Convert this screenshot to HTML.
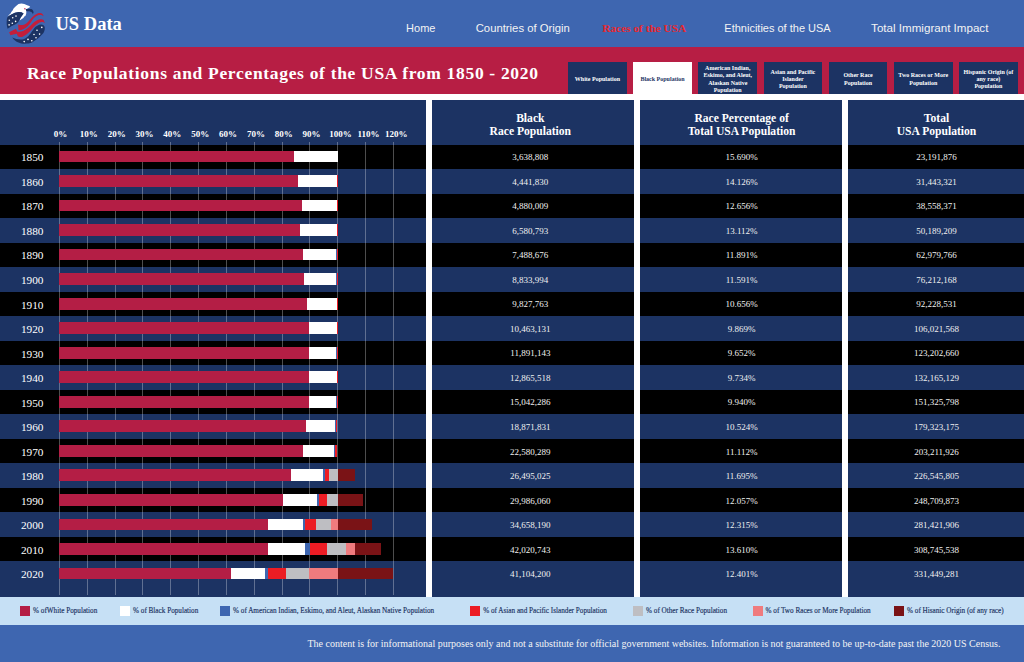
<!DOCTYPE html>
<html><head><meta charset="utf-8"><title>US Data - Races of the USA</title>
<style>
*{margin:0;padding:0;box-sizing:border-box}
html,body{width:1024px;height:662px;overflow:hidden;background:#fff}
body{position:relative;font-family:"Liberation Serif",serif;}
.abs{position:absolute}
#hdr{left:0;top:0;width:1024px;height:47px;background:#3e66b0}
#ban{left:0;top:47px;width:1024px;height:47px;background:#b71e44}
.nav{position:absolute;top:21px;font-family:"Liberation Sans",sans-serif;font-size:11px;line-height:14px;color:#f3f3f3;white-space:nowrap;transform:translateX(-50%)}
.btn{position:absolute;top:62px;width:58.8px;height:32px;background:#1c3363;color:#fff;font-weight:bold;font-size:6px;line-height:7.1px;display:flex;align-items:center;justify-content:center;text-align:center;white-space:nowrap;padding-top:3px}
.btn.on{background:#fff;color:#1c3363}
.panel{position:absolute;top:100px;height:497px;background:#1c3363;overflow:hidden}
.row{position:absolute;left:0;right:0;height:24.52px}
.row.k{background:#000}
.cell{position:absolute;left:0;right:0;top:0.7px;text-align:center;color:#f0f0f0;font-size:9px;line-height:24.5px;white-space:nowrap}
.ph{position:absolute;left:0;right:0;top:11.5px;text-align:center;color:#fff;font-weight:bold;font-size:11.6px;line-height:13.8px}
.yr{position:absolute;left:0;width:64.4px;text-align:center;color:#fff;font-size:11.3px;line-height:24.5px;padding-top:0.8px}
.gl{position:absolute;top:42px;width:1px;height:453px;background:rgba(255,255,255,0.3)}
.ax{position:absolute;top:28px;color:#fff;font-weight:bold;font-size:9px;line-height:12px;transform:translateX(-50%);white-space:nowrap}
.seg{position:absolute;height:11.7px}
#legend{left:0;top:597px;width:1024px;height:27.5px;background:#c6e0f5}
.lg{position:absolute;top:8.5px;width:10px;height:10px}
.lt{position:absolute;top:8px;font-size:7.2px;line-height:12px;color:#1c3363;white-space:nowrap;-webkit-text-stroke:0.15px #1c3363}
#foot{left:0;top:624.5px;width:1024px;height:38px;background:#3e66b0}
#foot span{position:absolute;left:307.5px;top:12px;font-size:10px;line-height:13px;color:#f4f4f4;white-space:nowrap}
</style></head><body>

<div id="hdr" class="abs"></div>
<svg class="abs" style="left:0;top:0" width="50" height="47" viewBox="0 0 50 47">
<path d="M7.6 16.7 L9.6 14.2 L10.6 13.6 L11.3 12 L12.6 10.6 L13.4 8.7 L15 6.9 L16.7 5.4 L18.5 4 L21.4 3.6 L24.3 4 L27.2 5.2 L29.3 6.1 L30.2 7 L27.6 8.4 L26.1 9.2 L26.4 11.2 L26.2 13.8 L25.4 16 L24.3 16.6 L23.4 18.1 L21.8 19 L19.6 20.4 L20.6 17.8 L22.4 15.2 L23.6 13.4 L21.4 12.3 L18.5 12 L14.9 12.7 L11.3 14.5 Z" fill="#fff"/>
<path d="M6.9 18.9 L7.6 16.7 L11.3 14.5 L14.9 12.7 L18.5 12 L21.4 12.3 L23.6 13.4 L22.3 15.3 L20.5 17.8 L19.3 20.3 L18.2 22.2 L16 24 L11.3 26.2 L7.6 28.7 C6.6 25.4 6.4 22 6.9 18.9 Z" fill="#1c3363"/>
<path d="M25.6 9.1 L31.4 9 C32.6 9.5 33.4 10.6 33.6 12.3 L32.9 14.3 C32.6 13.2 32.2 12.6 31.7 12.3 L29.3 11.3 L26.4 11.3 Z" fill="#1c3363"/>
<circle cx="24.9" cy="8.7" r="0.75" fill="#c8285a"/>
<path d="M18.1 24.5 C20 25.3 22.5 25.3 24.5 24.5 C27 23.5 29 21 31 18.6 C33 16.3 35 14.5 37.5 13.5 C39.5 12.8 41.5 13 42.5 14 L43.8 16.2 L42.5 15.6 C41 15 39 15 37.6 15.4 C35.5 16.2 34 17.5 32.5 19.8 C30.5 23 29 25 27.4 26.5 C25.5 28.3 23 29.5 21 30 L18.5 30.2 Z" fill="#c41e3a"/>
<path d="M9.1 32.3 L12 30.8 L16 28.7 L17.2 31.5 C19 32 21 31.8 23 31 C26 29.5 29 27.5 32.2 24 C34.5 21.5 37 20 39.5 19.3 C41.5 19 43 19.5 43.8 20.2 L44.8 23.3 L43.5 22.3 C42 21.8 40.5 22 39 22.8 C36.5 24.2 34 26.5 31.5 29.5 C29 32.5 26 35 22.1 37 C20.5 37.3 19 37 17.8 36.2 L16.8 33.8 L13.4 34.5 L10.5 35.2 Z" fill="#c41e3a"/>
<path d="M12.3 37.4 C16 39.2 20 40 24.3 38.9 C28 37.5 31 33 34 28.5 C36 26 38.5 24.7 41 24.5 C43 24.5 44.5 25.5 44.8 27.5 C45 30 44 32.5 43 33.5 C40 37 36 40 32 42.5 C28 44 22 44.2 18.5 42.5 C16 41.5 13.8 39.8 12.3 37.4 Z" fill="#1c3363"/>
<g fill="#fff"><circle cx="16" cy="16.1" r="0.8"/><circle cx="12.7" cy="17.8" r="0.8"/><circle cx="9.3" cy="20.2" r="0.8"/><circle cx="15.6" cy="21.4" r="0.8"/><circle cx="12.3" cy="23.2" r="0.8"/><circle cx="9.1" cy="24.9" r="0.8"/>
<circle cx="41.8" cy="27.4" r="0.8"/><circle cx="37" cy="30.2" r="0.8"/><circle cx="34" cy="34.5" r="0.8"/><circle cx="39.6" cy="34.1" r="0.8"/><circle cx="36" cy="37.8" r="0.8"/><circle cx="28" cy="39.4" r="0.8"/><circle cx="31.8" cy="40.7" r="0.8"/><circle cx="24.2" cy="41.6" r="0.8"/></g>
</svg>
<div class="abs" style="left:55.5px;top:13.3px;font-weight:bold;font-size:18.5px;line-height:22px;color:#fff;white-space:nowrap">US Data</div>
<div class="nav" style="left:420.75px;color:#f3f3f3;font-size:11px">Home</div>
<div class="nav" style="left:522.8px;color:#f3f3f3;font-size:11.3px">Countries of Origin</div>
<div class="nav" style="left:644.25px;color:#e8262e;font-family:'Liberation Serif',serif;font-weight:bold;font-size:11.3px">Races of the USA</div>
<div class="nav" style="left:777.5px;color:#f3f3f3;font-size:11px">Ethnicities of the USA</div>
<div class="nav" style="left:929.75px;color:#f3f3f3;font-size:11.6px">Total Immigrant Impact</div>
<div id="ban" class="abs"></div>
<div class="abs" style="left:27px;top:63.1px;font-weight:bold;font-size:17.5px;letter-spacing:0.68px;line-height:20px;color:#fff;white-space:nowrap">Race Populations and Percentages of the USA from 1850 - 2020</div>
<div class="btn" style="left:568.0px;"""><span>White Population</span></div>
<div class="btn on" style="left:633.17px;"""><span>Black Population</span></div>
<div class="btn" style="left:698.34px;"""><span>American Indian,<br>Eskimo, and Aleut,<br>Alaskan Native<br>Population</span></div>
<div class="btn" style="left:763.51px;"""><span>Asian and Pacific<br>Islander<br>Population</span></div>
<div class="btn" style="left:828.68px;"""><span>Other Race<br>Population</span></div>
<div class="btn" style="left:893.85px;"""><span>Two Races or More<br>Population</span></div>
<div class="btn" style="left:959.02px;"""><span>Hispanic Origin (of<br>any race)<br>Population</span></div>
<div class="panel" style="left:0;width:426px">
<div class="row k" style="top:44.60px"></div>
<div class="row" style="top:69.12px"></div>
<div class="row k" style="top:93.64px"></div>
<div class="row" style="top:118.16px"></div>
<div class="row k" style="top:142.68px"></div>
<div class="row" style="top:167.20px"></div>
<div class="row k" style="top:191.72px"></div>
<div class="row" style="top:216.24px"></div>
<div class="row k" style="top:240.76px"></div>
<div class="row" style="top:265.28px"></div>
<div class="row k" style="top:289.80px"></div>
<div class="row" style="top:314.32px"></div>
<div class="row k" style="top:338.84px"></div>
<div class="row" style="top:363.36px"></div>
<div class="row k" style="top:387.88px"></div>
<div class="row" style="top:412.40px"></div>
<div class="row k" style="top:436.92px"></div>
<div class="row" style="top:461.44px"></div>
<div class="gl" style="left:59px"></div>
<div class="ax" style="left:60.50px">0%</div>
<div class="gl" style="left:87px"></div>
<div class="ax" style="left:88.80px">10%</div>
<div class="gl" style="left:115px"></div>
<div class="ax" style="left:116.65px">20%</div>
<div class="gl" style="left:142px"></div>
<div class="ax" style="left:144.50px">30%</div>
<div class="gl" style="left:170px"></div>
<div class="ax" style="left:172.35px">40%</div>
<div class="gl" style="left:198px"></div>
<div class="ax" style="left:200.20px">50%</div>
<div class="gl" style="left:226px"></div>
<div class="ax" style="left:228.05px">60%</div>
<div class="gl" style="left:254px"></div>
<div class="ax" style="left:255.90px">70%</div>
<div class="gl" style="left:282px"></div>
<div class="ax" style="left:283.75px">80%</div>
<div class="gl" style="left:309px"></div>
<div class="ax" style="left:311.60px">90%</div>
<div class="gl" style="left:337px"></div>
<div class="ax" style="left:340.60px">100%</div>
<div class="gl" style="left:365px"></div>
<div class="ax" style="left:368.45px">110%</div>
<div class="gl" style="left:393px"></div>
<div class="ax" style="left:396.30px">120%</div>
<div class="yr" style="top:44.60px">1850</div>
<div class="seg" style="left:59.30px;width:234.78px;top:50.70px;background:#b41e45"></div>
<div class="seg" style="left:294.08px;width:43.72px;top:50.70px;background:#ffffff"></div>
<div class="yr" style="top:69.12px">1860</div>
<div class="seg" style="left:59.30px;width:238.40px;top:75.22px;background:#b41e45"></div>
<div class="seg" style="left:297.70px;width:39.27px;top:75.22px;background:#ffffff"></div>
<div class="seg" style="left:336.96px;width:0.42px;top:75.22px;background:#3e66b0"></div>
<div class="seg" style="left:337.38px;width:0.42px;top:75.22px;background:#ec1c24"></div>
<div class="yr" style="top:93.64px">1870</div>
<div class="seg" style="left:59.30px;width:242.57px;top:99.74px;background:#b41e45"></div>
<div class="seg" style="left:301.87px;width:35.37px;top:99.74px;background:#ffffff"></div>
<div class="seg" style="left:337.24px;width:0.19px;top:99.74px;background:#3e66b0"></div>
<div class="seg" style="left:337.44px;width:0.45px;top:99.74px;background:#ec1c24"></div>
<div class="yr" style="top:118.16px">1880</div>
<div class="seg" style="left:59.30px;width:240.90px;top:124.26px;background:#b41e45"></div>
<div class="seg" style="left:300.20px;width:36.48px;top:124.26px;background:#ffffff"></div>
<div class="seg" style="left:336.69px;width:0.36px;top:124.26px;background:#3e66b0"></div>
<div class="seg" style="left:337.05px;width:0.58px;top:124.26px;background:#ec1c24"></div>
<div class="yr" style="top:142.68px">1890</div>
<div class="seg" style="left:59.30px;width:243.69px;top:148.78px;background:#b41e45"></div>
<div class="seg" style="left:302.99px;width:33.14px;top:148.78px;background:#ffffff"></div>
<div class="seg" style="left:336.13px;width:1.09px;top:148.78px;background:#3e66b0"></div>
<div class="seg" style="left:337.22px;width:0.47px;top:148.78px;background:#ec1c24"></div>
<div class="yr" style="top:167.20px">1900</div>
<div class="seg" style="left:59.30px;width:244.80px;top:173.30px;background:#b41e45"></div>
<div class="seg" style="left:304.10px;width:32.31px;top:173.30px;background:#ffffff"></div>
<div class="seg" style="left:336.41px;width:0.86px;top:173.30px;background:#3e66b0"></div>
<div class="seg" style="left:337.27px;width:0.42px;top:173.30px;background:#ec1c24"></div>
<div class="yr" style="top:191.72px">1910</div>
<div class="seg" style="left:59.30px;width:247.59px;top:197.82px;background:#b41e45"></div>
<div class="seg" style="left:306.89px;width:29.80px;top:197.82px;background:#ffffff"></div>
<div class="seg" style="left:336.69px;width:0.81px;top:197.82px;background:#3e66b0"></div>
<div class="seg" style="left:337.49px;width:0.45px;top:197.82px;background:#ec1c24"></div>
<div class="yr" style="top:216.24px">1920</div>
<div class="seg" style="left:59.30px;width:249.81px;top:222.34px;background:#b41e45"></div>
<div class="seg" style="left:309.11px;width:27.57px;top:222.34px;background:#ffffff"></div>
<div class="seg" style="left:336.69px;width:0.64px;top:222.34px;background:#3e66b0"></div>
<div class="seg" style="left:337.33px;width:0.47px;top:222.34px;background:#ec1c24"></div>
<div class="yr" style="top:240.76px">1930</div>
<div class="seg" style="left:59.30px;width:250.09px;top:246.86px;background:#b41e45"></div>
<div class="seg" style="left:309.39px;width:27.01px;top:246.86px;background:#ffffff"></div>
<div class="seg" style="left:336.41px;width:0.75px;top:246.86px;background:#3e66b0"></div>
<div class="seg" style="left:337.16px;width:0.58px;top:246.86px;background:#ec1c24"></div>
<div class="yr" style="top:265.28px">1940</div>
<div class="seg" style="left:59.30px;width:250.09px;top:271.38px;background:#b41e45"></div>
<div class="seg" style="left:309.39px;width:27.29px;top:271.38px;background:#ffffff"></div>
<div class="seg" style="left:336.69px;width:0.70px;top:271.38px;background:#3e66b0"></div>
<div class="seg" style="left:337.38px;width:0.53px;top:271.38px;background:#ec1c24"></div>
<div class="yr" style="top:289.80px">1950</div>
<div class="seg" style="left:59.30px;width:249.26px;top:295.90px;background:#b41e45"></div>
<div class="seg" style="left:308.56px;width:27.85px;top:295.90px;background:#ffffff"></div>
<div class="seg" style="left:336.41px;width:0.64px;top:295.90px;background:#3e66b0"></div>
<div class="seg" style="left:337.05px;width:0.58px;top:295.90px;background:#ec1c24"></div>
<div class="yr" style="top:314.32px">1960</div>
<div class="seg" style="left:59.30px;width:246.75px;top:320.42px;background:#b41e45"></div>
<div class="seg" style="left:306.05px;width:29.24px;top:320.42px;background:#ffffff"></div>
<div class="seg" style="left:335.29px;width:0.81px;top:320.42px;background:#3e66b0"></div>
<div class="seg" style="left:336.10px;width:1.36px;top:320.42px;background:#ec1c24"></div>
<div class="yr" style="top:338.84px">1970</div>
<div class="seg" style="left:59.30px;width:243.69px;top:344.94px;background:#b41e45"></div>
<div class="seg" style="left:302.99px;width:30.91px;top:344.94px;background:#ffffff"></div>
<div class="seg" style="left:333.90px;width:1.09px;top:344.94px;background:#3e66b0"></div>
<div class="seg" style="left:334.99px;width:2.12px;top:344.94px;background:#ec1c24"></div>
<div class="yr" style="top:363.36px">1980</div>
<div class="seg" style="left:59.30px;width:231.43px;top:369.46px;background:#b41e45"></div>
<div class="seg" style="left:290.73px;width:32.58px;top:369.46px;background:#ffffff"></div>
<div class="seg" style="left:323.32px;width:1.67px;top:369.46px;background:#3e66b0"></div>
<div class="seg" style="left:324.99px;width:4.18px;top:369.46px;background:#ec1c24"></div>
<div class="seg" style="left:329.17px;width:8.36px;top:369.46px;background:#bebec2"></div>
<div class="seg" style="left:337.52px;width:17.82px;top:369.46px;background:#7a1316"></div>
<div class="yr" style="top:387.88px">1990</div>
<div class="seg" style="left:59.30px;width:223.64px;top:393.98px;background:#b41e45"></div>
<div class="seg" style="left:282.94px;width:33.70px;top:393.98px;background:#ffffff"></div>
<div class="seg" style="left:316.63px;width:2.23px;top:393.98px;background:#3e66b0"></div>
<div class="seg" style="left:318.86px;width:8.08px;top:393.98px;background:#ec1c24"></div>
<div class="seg" style="left:326.94px;width:10.86px;top:393.98px;background:#bebec2"></div>
<div class="seg" style="left:337.80px;width:25.07px;top:393.98px;background:#7a1316"></div>
<div class="yr" style="top:412.40px">2000</div>
<div class="seg" style="left:59.30px;width:209.15px;top:418.50px;background:#b41e45"></div>
<div class="seg" style="left:268.45px;width:34.26px;top:418.50px;background:#ffffff"></div>
<div class="seg" style="left:302.71px;width:2.51px;top:418.50px;background:#3e66b0"></div>
<div class="seg" style="left:305.22px;width:10.30px;top:418.50px;background:#ec1c24"></div>
<div class="seg" style="left:315.52px;width:15.32px;top:418.50px;background:#bebec2"></div>
<div class="seg" style="left:330.84px;width:6.68px;top:418.50px;background:#ef7b7e"></div>
<div class="seg" style="left:337.52px;width:34.81px;top:418.50px;background:#7a1316"></div>
<div class="yr" style="top:436.92px">2010</div>
<div class="seg" style="left:59.30px;width:208.32px;top:443.02px;background:#b41e45"></div>
<div class="seg" style="left:267.62px;width:37.88px;top:443.02px;background:#ffffff"></div>
<div class="seg" style="left:305.49px;width:4.46px;top:443.02px;background:#3e66b0"></div>
<div class="seg" style="left:309.95px;width:16.71px;top:443.02px;background:#ec1c24"></div>
<div class="seg" style="left:326.66px;width:19.50px;top:443.02px;background:#bebec2"></div>
<div class="seg" style="left:346.15px;width:8.91px;top:443.02px;background:#ef7b7e"></div>
<div class="seg" style="left:355.07px;width:25.62px;top:443.02px;background:#7a1316"></div>
<div class="yr" style="top:461.44px">2020</div>
<div class="seg" style="left:59.30px;width:171.56px;top:467.54px;background:#b41e45"></div>
<div class="seg" style="left:230.86px;width:34.53px;top:467.54px;background:#ffffff"></div>
<div class="seg" style="left:265.39px;width:3.06px;top:467.54px;background:#3e66b0"></div>
<div class="seg" style="left:268.45px;width:17.27px;top:467.54px;background:#ec1c24"></div>
<div class="seg" style="left:285.72px;width:23.39px;top:467.54px;background:#bebec2"></div>
<div class="seg" style="left:309.11px;width:28.41px;top:467.54px;background:#ef7b7e"></div>
<div class="seg" style="left:337.52px;width:55.42px;top:467.54px;background:#7a1316"></div>
</div>
<div class="panel" style="left:432px;width:202px">
<div style="position:absolute;left:-2.7px;top:0;width:202px;height:100%">
<div class="ph">Black<br>Race Population</div>
<div class="row k" style="top:44.60px;left:2.7px;right:-2.7px"><div class="cell" style="left:-2.7px;right:2.7px">3,638,808</div></div>
<div class="row" style="top:69.12px;left:2.7px;right:-2.7px"><div class="cell" style="left:-2.7px;right:2.7px">4,441,830</div></div>
<div class="row k" style="top:93.64px;left:2.7px;right:-2.7px"><div class="cell" style="left:-2.7px;right:2.7px">4,880,009</div></div>
<div class="row" style="top:118.16px;left:2.7px;right:-2.7px"><div class="cell" style="left:-2.7px;right:2.7px">6,580,793</div></div>
<div class="row k" style="top:142.68px;left:2.7px;right:-2.7px"><div class="cell" style="left:-2.7px;right:2.7px">7,488,676</div></div>
<div class="row" style="top:167.20px;left:2.7px;right:-2.7px"><div class="cell" style="left:-2.7px;right:2.7px">8,833,994</div></div>
<div class="row k" style="top:191.72px;left:2.7px;right:-2.7px"><div class="cell" style="left:-2.7px;right:2.7px">9,827,763</div></div>
<div class="row" style="top:216.24px;left:2.7px;right:-2.7px"><div class="cell" style="left:-2.7px;right:2.7px">10,463,131</div></div>
<div class="row k" style="top:240.76px;left:2.7px;right:-2.7px"><div class="cell" style="left:-2.7px;right:2.7px">11,891,143</div></div>
<div class="row" style="top:265.28px;left:2.7px;right:-2.7px"><div class="cell" style="left:-2.7px;right:2.7px">12,865,518</div></div>
<div class="row k" style="top:289.80px;left:2.7px;right:-2.7px"><div class="cell" style="left:-2.7px;right:2.7px">15,042,286</div></div>
<div class="row" style="top:314.32px;left:2.7px;right:-2.7px"><div class="cell" style="left:-2.7px;right:2.7px">18,871,831</div></div>
<div class="row k" style="top:338.84px;left:2.7px;right:-2.7px"><div class="cell" style="left:-2.7px;right:2.7px">22,580,289</div></div>
<div class="row" style="top:363.36px;left:2.7px;right:-2.7px"><div class="cell" style="left:-2.7px;right:2.7px">26,495,025</div></div>
<div class="row k" style="top:387.88px;left:2.7px;right:-2.7px"><div class="cell" style="left:-2.7px;right:2.7px">29,986,060</div></div>
<div class="row" style="top:412.40px;left:2.7px;right:-2.7px"><div class="cell" style="left:-2.7px;right:2.7px">34,658,190</div></div>
<div class="row k" style="top:436.92px;left:2.7px;right:-2.7px"><div class="cell" style="left:-2.7px;right:2.7px">42,020,743</div></div>
<div class="row" style="top:461.44px;left:2.7px;right:-2.7px"><div class="cell" style="left:-2.7px;right:2.7px">41,104,200</div></div>
</div></div>
<div class="panel" style="left:640px;width:202px">
<div style="position:absolute;left:0.6px;top:0;width:202px;height:100%">
<div class="ph">Race Percentage of<br>Total USA Population</div>
<div class="row k" style="top:44.60px;left:-0.6px;right:0.6px"><div class="cell" style="left:0.6px;right:-0.6px">15.690%</div></div>
<div class="row" style="top:69.12px;left:-0.6px;right:0.6px"><div class="cell" style="left:0.6px;right:-0.6px">14.126%</div></div>
<div class="row k" style="top:93.64px;left:-0.6px;right:0.6px"><div class="cell" style="left:0.6px;right:-0.6px">12.656%</div></div>
<div class="row" style="top:118.16px;left:-0.6px;right:0.6px"><div class="cell" style="left:0.6px;right:-0.6px">13.112%</div></div>
<div class="row k" style="top:142.68px;left:-0.6px;right:0.6px"><div class="cell" style="left:0.6px;right:-0.6px">11.891%</div></div>
<div class="row" style="top:167.20px;left:-0.6px;right:0.6px"><div class="cell" style="left:0.6px;right:-0.6px">11.591%</div></div>
<div class="row k" style="top:191.72px;left:-0.6px;right:0.6px"><div class="cell" style="left:0.6px;right:-0.6px">10.656%</div></div>
<div class="row" style="top:216.24px;left:-0.6px;right:0.6px"><div class="cell" style="left:0.6px;right:-0.6px">9.869%</div></div>
<div class="row k" style="top:240.76px;left:-0.6px;right:0.6px"><div class="cell" style="left:0.6px;right:-0.6px">9.652%</div></div>
<div class="row" style="top:265.28px;left:-0.6px;right:0.6px"><div class="cell" style="left:0.6px;right:-0.6px">9.734%</div></div>
<div class="row k" style="top:289.80px;left:-0.6px;right:0.6px"><div class="cell" style="left:0.6px;right:-0.6px">9.940%</div></div>
<div class="row" style="top:314.32px;left:-0.6px;right:0.6px"><div class="cell" style="left:0.6px;right:-0.6px">10.524%</div></div>
<div class="row k" style="top:338.84px;left:-0.6px;right:0.6px"><div class="cell" style="left:0.6px;right:-0.6px">11.112%</div></div>
<div class="row" style="top:363.36px;left:-0.6px;right:0.6px"><div class="cell" style="left:0.6px;right:-0.6px">11.695%</div></div>
<div class="row k" style="top:387.88px;left:-0.6px;right:0.6px"><div class="cell" style="left:0.6px;right:-0.6px">12.057%</div></div>
<div class="row" style="top:412.40px;left:-0.6px;right:0.6px"><div class="cell" style="left:0.6px;right:-0.6px">12.315%</div></div>
<div class="row k" style="top:436.92px;left:-0.6px;right:0.6px"><div class="cell" style="left:0.6px;right:-0.6px">13.610%</div></div>
<div class="row" style="top:461.44px;left:-0.6px;right:0.6px"><div class="cell" style="left:0.6px;right:-0.6px">12.401%</div></div>
</div></div>
<div class="panel" style="left:848px;width:176px">
<div style="position:absolute;left:0.5px;top:0;width:176px;height:100%">
<div class="ph">Total<br>USA Population</div>
<div class="row k" style="top:44.60px;left:-0.5px;right:0.5px"><div class="cell" style="left:0.5px;right:-0.5px">23,191,876</div></div>
<div class="row" style="top:69.12px;left:-0.5px;right:0.5px"><div class="cell" style="left:0.5px;right:-0.5px">31,443,321</div></div>
<div class="row k" style="top:93.64px;left:-0.5px;right:0.5px"><div class="cell" style="left:0.5px;right:-0.5px">38,558,371</div></div>
<div class="row" style="top:118.16px;left:-0.5px;right:0.5px"><div class="cell" style="left:0.5px;right:-0.5px">50,189,209</div></div>
<div class="row k" style="top:142.68px;left:-0.5px;right:0.5px"><div class="cell" style="left:0.5px;right:-0.5px">62,979,766</div></div>
<div class="row" style="top:167.20px;left:-0.5px;right:0.5px"><div class="cell" style="left:0.5px;right:-0.5px">76,212,168</div></div>
<div class="row k" style="top:191.72px;left:-0.5px;right:0.5px"><div class="cell" style="left:0.5px;right:-0.5px">92,228,531</div></div>
<div class="row" style="top:216.24px;left:-0.5px;right:0.5px"><div class="cell" style="left:0.5px;right:-0.5px">106,021,568</div></div>
<div class="row k" style="top:240.76px;left:-0.5px;right:0.5px"><div class="cell" style="left:0.5px;right:-0.5px">123,202,660</div></div>
<div class="row" style="top:265.28px;left:-0.5px;right:0.5px"><div class="cell" style="left:0.5px;right:-0.5px">132,165,129</div></div>
<div class="row k" style="top:289.80px;left:-0.5px;right:0.5px"><div class="cell" style="left:0.5px;right:-0.5px">151,325,798</div></div>
<div class="row" style="top:314.32px;left:-0.5px;right:0.5px"><div class="cell" style="left:0.5px;right:-0.5px">179,323,175</div></div>
<div class="row k" style="top:338.84px;left:-0.5px;right:0.5px"><div class="cell" style="left:0.5px;right:-0.5px">203,211,926</div></div>
<div class="row" style="top:363.36px;left:-0.5px;right:0.5px"><div class="cell" style="left:0.5px;right:-0.5px">226,545,805</div></div>
<div class="row k" style="top:387.88px;left:-0.5px;right:0.5px"><div class="cell" style="left:0.5px;right:-0.5px">248,709,873</div></div>
<div class="row" style="top:412.40px;left:-0.5px;right:0.5px"><div class="cell" style="left:0.5px;right:-0.5px">281,421,906</div></div>
<div class="row k" style="top:436.92px;left:-0.5px;right:0.5px"><div class="cell" style="left:0.5px;right:-0.5px">308,745,538</div></div>
<div class="row" style="top:461.44px;left:-0.5px;right:0.5px"><div class="cell" style="left:0.5px;right:-0.5px">331,449,281</div></div>
</div></div>
<div id="legend" class="abs">
<div class="lg" style="left:20px;background:#b41e45"></div><div class="lt" style="left:33px">% ofWhite Population</div>
<div class="lg" style="left:120px;background:#ffffff"></div><div class="lt" style="left:133px">% of Black Population</div>
<div class="lg" style="left:220px;background:#3e66b0"></div><div class="lt" style="left:233px">% of American Indian, Eskimo, and Aleut, Alaskan Native Population</div>
<div class="lg" style="left:470.2px;background:#ec1c24"></div><div class="lt" style="left:483.2px">% of Asian and Pacific Islander Population</div>
<div class="lg" style="left:633px;background:#bebec2"></div><div class="lt" style="left:646px">% of Other Race Population</div>
<div class="lg" style="left:752.5px;background:#ef7b7e"></div><div class="lt" style="left:765.5px">% of Two Races or More Population</div>
<div class="lg" style="left:894px;background:#7a1316"></div><div class="lt" style="left:907px">% of Hisanic Origin (of any race)</div>
</div>
<div id="foot" class="abs"><span>The content is for informational purposes only and not a substitute for official government websites. Information is not guaranteed to be up-to-date past the 2020 US Census.</span></div>
</body></html>
